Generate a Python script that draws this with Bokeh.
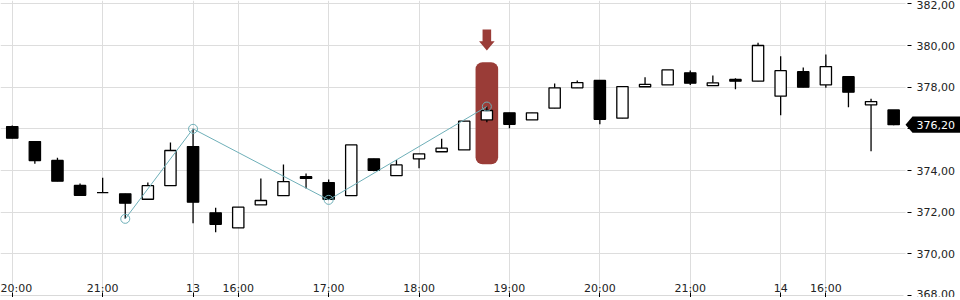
from bokeh.plotting import figure
from bokeh.models import (ColumnDataSource, Range1d, FixedTicker, BoxAnnotation,
                          PolyAnnotation)
from bokeh.core.properties import value
from bokeh.embed import file_html
from bokeh.resources import INLINE

# ---------------- data ----------------
opens = [376.11, 375.39, 374.48, 373.28, 372.94, 372.88, 372.62, 373.27, 375.15, 371.97,
         371.25, 372.35, 372.79, 373.70, 373.42, 372.79, 374.56, 373.75, 374.56, 374.90,
         374.99, 376.43, 376.77, 376.43, 376.99, 377.97, 378.32, 376.51, 378.02, 378.11,
         378.69, 378.07, 378.37, 378.29, 377.57, 378.74, 378.11, 378.50, 377.15, 376.91]
highs = [376.16, 375.39, 374.61, 373.38, 373.65, 372.88, 373.42, 375.34, 376.00, 372.21,
         372.24, 373.62, 374.29, 373.86, 373.57, 375.23, 374.56, 374.51, 374.80, 375.52,
         376.37, 377.07, 376.77, 376.77, 378.18, 378.32, 378.32, 378.03, 378.48, 378.83,
         378.80, 378.56, 378.43, 380.13, 379.49, 378.94, 379.57, 378.50, 377.44, 376.91]
lows = [375.55, 374.32, 373.49, 372.81, 372.94, 371.68, 372.59, 373.27, 371.47, 371.04,
        371.25, 372.35, 372.79, 373.14, 372.59, 372.79, 373.97, 373.75, 374.11, 374.90,
        374.99, 376.32, 376.03, 376.43, 376.99, 377.97, 376.22, 376.51, 378.02, 378.11,
        378.10, 378.07, 377.90, 378.29, 376.65, 378.00, 377.97, 377.04, 374.93, 376.17]
closes = [375.55, 374.48, 373.49, 372.81, 372.94, 372.43, 373.27, 374.96, 372.48, 371.42,
          372.24, 372.56, 373.47, 373.62, 372.62, 375.23, 374.01, 374.27, 374.80, 375.07,
          376.37, 376.88, 376.22, 376.77, 377.97, 378.22, 376.46, 378.03, 378.13, 378.83,
          378.19, 378.21, 378.29, 380.00, 378.79, 378.00, 378.99, 377.76, 377.31, 376.20]

x_tick_index = [0, 4, 8, 10, 14, 18, 22, 26, 30, 34, 36]
x_tick_labels = ["20:00", "21:00", "13", "16:00", "17:00", "18:00",
                 "19:00", "20:00", "21:00", "14", "16:00"]
y_ticks = [368, 370, 372, 374, 376, 378, 380, 382]

zigzag_index = [5, 8, 14, 21]
zigzag_kind = ["low", "high", "low", "high"]

highlight_index = 21
highlight_top = 379.2
highlight_bottom = 374.3
last_price = closes[-1]

# ---------------- layout constants ----------------
W, FH = 960, 295          # whole width is the frame; price scale drawn inside
PLOT_W = 905              # width of the candle area
X0 = -0.52
PX_X = 22.6
X1 = X0 + PLOT_W / PX_X   # right edge of candle area
XW = X0 + W / PX_X        # right edge of canvas
Y0, Y1 = 368.0, 382.16
PX_Y = FH / (Y1 - Y0)
RED = "#9a3c37"
TEAL = "#6eafb8"
FONT = "DejaVu Sans"

n = len(opens)
idx = list(range(n))
up = [c >= o for o, c in zip(opens, closes)]
src = ColumnDataSource(dict(
    x=idx, o=opens, h=highs, l=lows, c=closes,
    top=[max(o, c) for o, c in zip(opens, closes)],
    bot=[min(o, c) for o, c in zip(opens, closes)],
    fill=["white" if u else "black" for u in up],
))

p = figure(frame_width=W, frame_height=FH, output_backend="svg", toolbar_location=None,
           x_range=Range1d(X0, XW), y_range=Range1d(Y0, Y1), y_axis_location="right",
           min_border_left=0, min_border_top=0, min_border_bottom=0, min_border_right=0,
           background_fill_color="white", border_fill_color="white")
p.outline_line_color = None

for g in (p.xgrid, p.ygrid):
    g.grid_line_color = "#dddddd"
    g.grid_line_width = 1

# white cover so the grid stops at the candle area
p.add_layout(BoxAnnotation(left=X1, right=XW + 1, fill_color="white", fill_alpha=1,
                           line_color=None, level="underlay"))

# x axis (labels inside the plot)
xa = p.xaxis[0]
xa.ticker = FixedTicker(ticks=x_tick_index, minor_ticks=[])
xa.major_label_overrides = {i: s for i, s in zip(x_tick_index, x_tick_labels)}
xa.bounds = (X0, X1 - 0.1)
xa.axis_line_color = "#d9d9d9"
xa.major_tick_line_color = "black"
xa.major_tick_in = 3
xa.major_tick_out = 2
xa.minor_tick_line_color = None
xa.major_label_standoff = -16
xa.major_label_text_font = FONT
xa.major_label_text_font_size = "11px"
xa.major_label_text_color = "#222222"

# price scale, drawn back inside the frame
ya = p.yaxis[0]
ya.ticker = FixedTicker(ticks=y_ticks, minor_ticks=[])
ya.major_label_overrides = {v: ("" if v == round(last_price) else f"{v:.2f}".replace(".", ","))
                            for v in y_ticks}
ya.axis_line_color = None
ya.major_tick_line_color = "black"
ya.major_tick_in = 53
ya.major_tick_out = -49
ya.minor_tick_line_color = None
ya.major_label_standoff = -44
ya.major_label_text_font = FONT
ya.major_label_text_font_size = "11px"
ya.major_label_text_color = "#222222"

# highlight box behind candle
p.add_layout(BoxAnnotation(left=highlight_index - 0.5, right=highlight_index + 0.5,
                           top=highlight_top, bottom=highlight_bottom,
                           fill_color=RED, fill_alpha=1, line_color=None,
                           border_radius=7, level="underlay"))

# arrow above box
tip = highlight_top + 11.7 / PX_Y
base = tip + 9.3 / PX_Y
tail = base + 11.7 / PX_Y
hw, sw = 7.8 / PX_X, 4.3 / PX_X
cx = highlight_index
p.add_layout(PolyAnnotation(
    xs=[cx, cx - hw, cx - sw, cx - sw, cx + sw, cx + sw, cx + hw],
    ys=[tip, base, base, tail, tail, base, base],
    fill_color=RED, fill_alpha=1, line_color=None))

# candles
p.segment(x0="x", y0="l", x1="x", y1="h", source=src, line_color="black", line_width=1.3)
p.vbar(x="x", width=0.5, top="top", bottom="bot", source=src,
       fill_color="fill", line_color="black", line_width=1.3)

# zigzag
zz_y = [lows[i] if k == "low" else highs[i] for i, k in zip(zigzag_index, zigzag_kind)]
p.line(zigzag_index, zz_y, line_color=TEAL, line_width=1)
p.scatter(zigzag_index, zz_y, marker="circle", size=9, fill_color=None,
          line_color=TEAL, line_width=1)

# last price tag
hh = 8.2 / PX_Y
xb = X1 + 7 / PX_X
xr = XW + 1
p.patch([X1, xb, xr, xr, xb],
        [last_price, last_price + hh, last_price + hh, last_price - hh, last_price - hh],
        fill_color="black", line_color=None, level="overlay")
p.text([xb + 4 / PX_X], [last_price], text=[f"{last_price:.2f}".replace(".", ",")],
       text_color="white", text_font=value(FONT), text_font_size="11px",
       text_baseline="middle", text_align="left", level="overlay")

open("out.html", "w").write(file_html(p, INLINE))
